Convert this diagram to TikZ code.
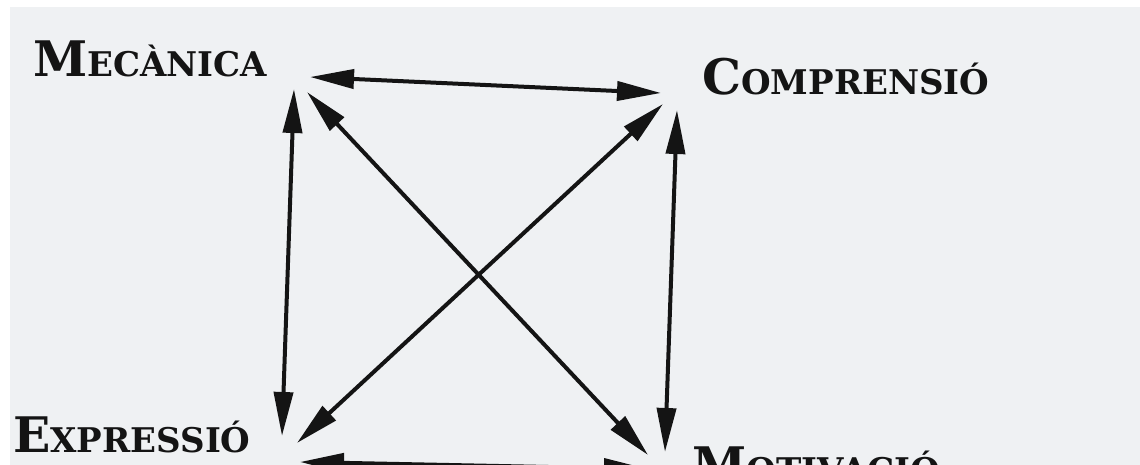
\documentclass[tikz,border=0pt]{standalone}
\usepackage{fontspec}
\setmainfont{DejaVu Serif}
\usetikzlibrary{arrows.meta}
\definecolor{ink}{HTML}{141414}
\definecolor{paper}{HTML}{EFF1F3}
\newcommand{\capsc}[2]{{\bfseries\fontsize{49}{49}\selectfont #1}{\bfseries\fontsize{34}{34}\selectfont #2}}
\begin{document}
\begin{tikzpicture}[x=1pt,y=-1pt,
  lbl/.style={anchor=base west, inner sep=0pt, text=ink},
  link/.style={line width=4pt, draw=ink,
    {Triangle[length=44pt,width=19pt]}-{Triangle[length=44pt,width=19pt]}}]
\useasboundingbox (0,0) rectangle (1140,465);
\fill[white] (0,0) rectangle (1140,465);
\fill[paper] (10,7) rectangle (1140,465);
\clip (0,0) rectangle (1140,465);

\node[lbl] (mec) at (33,77) {\capsc{M}{ECÀNICA}};
\node[lbl] (com) at (702,95) {\capsc{C}{OMPRENSIÓ}};
\node[lbl] (exp) at (13,452) {\capsc{E}{XPRESSIÓ}};
\node[lbl] (mot) at (692,482) {\capsc{M}{OTIVACIÓ}};

\coordinate (mh) at (310,77);
\coordinate (ch) at (661,93);
\coordinate (mv) at (294,89);
\coordinate (ev) at (282,436);
\coordinate (cv) at (677,110);
\coordinate (tv) at (665,452);
\coordinate (md) at (307,92);
\coordinate (td) at (648,455);
\coordinate (cd) at (663,104);
\coordinate (ed) at (297,443);
\coordinate (eh) at (300,462);
\coordinate (th) at (648,469);

\draw[link] (mh) -- (ch);
\draw[link] (mv) -- (ev);
\draw[link] (cv) -- (tv);
\draw[link] (md) -- (td);
\draw[link] (cd) -- (ed);
\draw[link] (eh) -- (th);
\end{tikzpicture}
\end{document}
